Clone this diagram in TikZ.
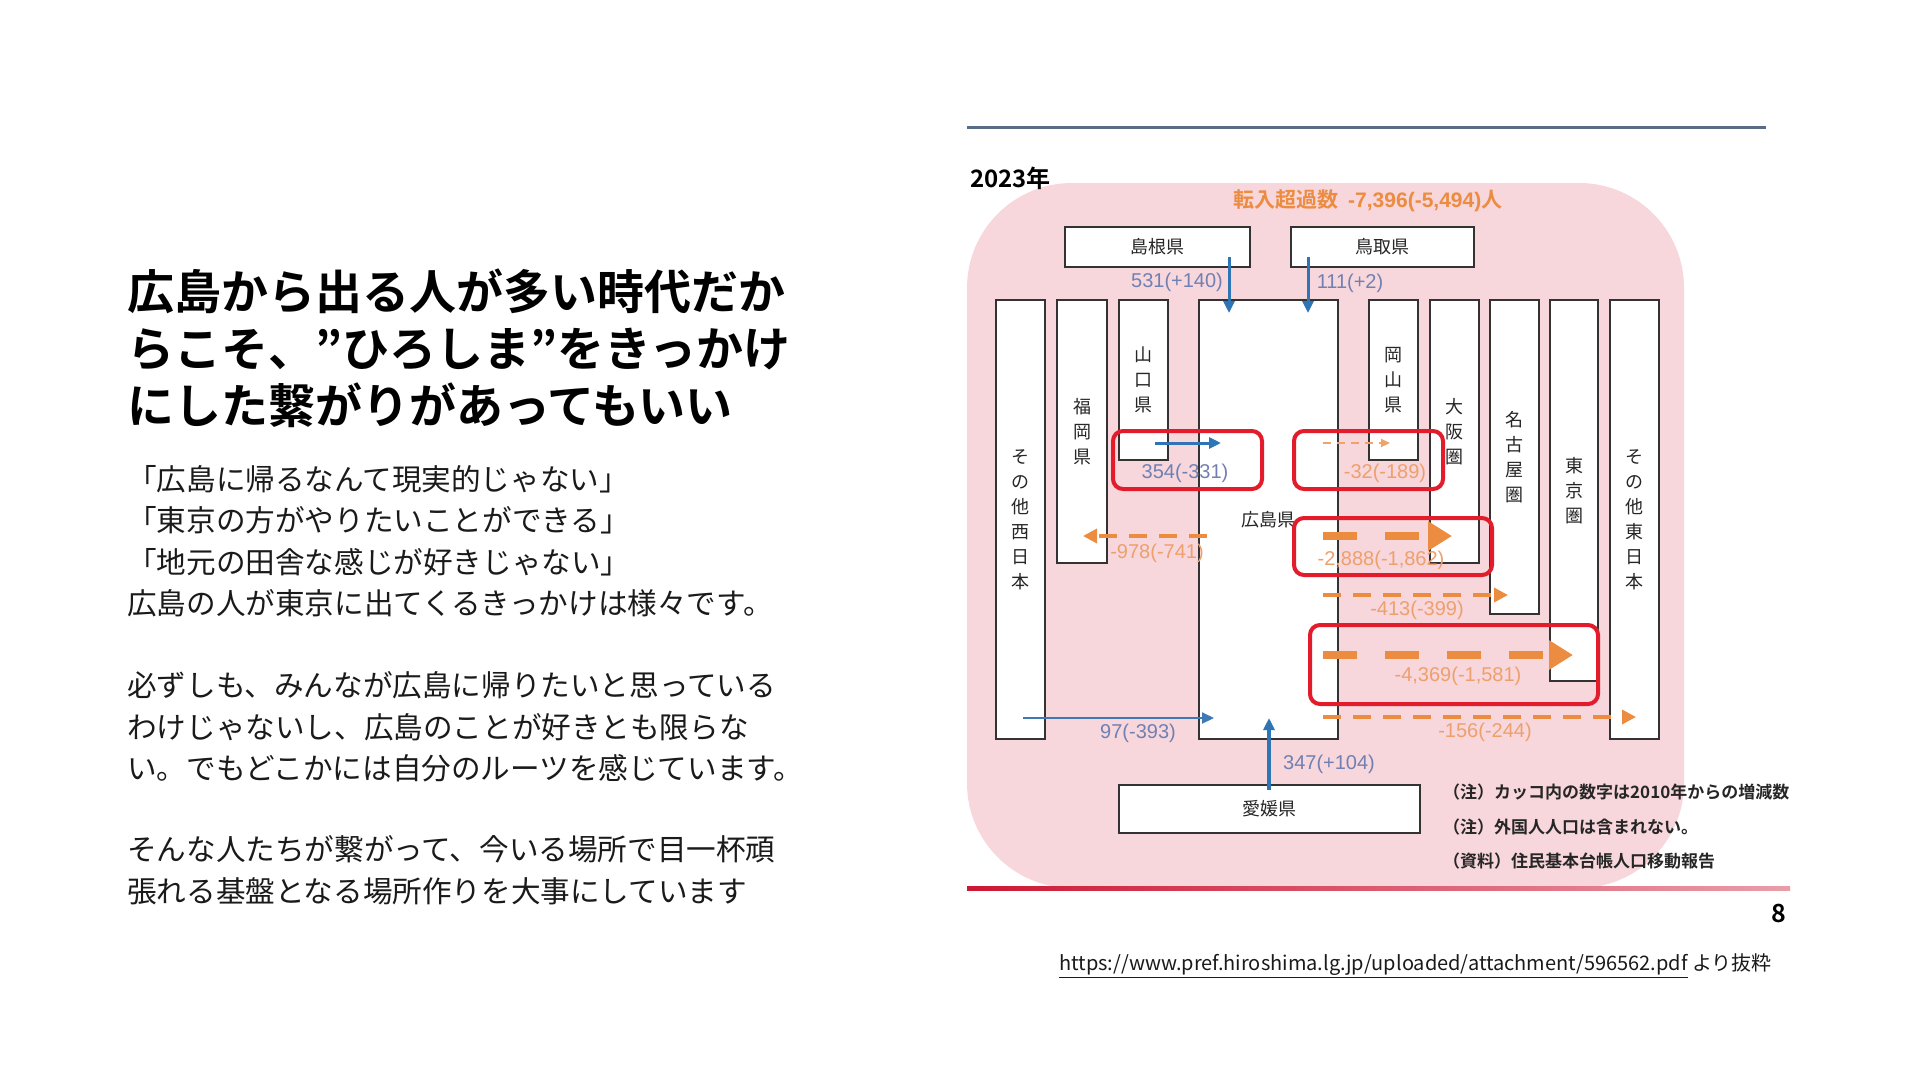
\documentclass[tikz,border=0pt]{standalone}
\usepackage{fontspec}
\setmainfont{Noto Sans CJK JP}[BoldFont={Noto Sans CJK JP Bold}]
\newfontfamily\numfont{Liberation Sans}
\usetikzlibrary{arrows.meta}
\definecolor{slidepink}{RGB}{247,214,220}
\definecolor{arrblue}{RGB}{46,117,182}
\definecolor{lblblue}{RGB}{112,128,178}
\definecolor{arrorange}{RGB}{236,140,64}
\definecolor{lblorange}{RGB}{238,160,108}
\definecolor{hlred}{RGB}{226,28,42}
\definecolor{ruleblue}{RGB}{88,108,136}
\definecolor{rulered}{RGB}{204,24,52}
\definecolor{inkgray}{RGB}{26,26,26}
\tikzstyle{headline}=[anchor=west, inner sep=0pt, align=left, text=black, font=\bfseries\fontsize{47}{57}\selectfont]
\tikzstyle{bodytext}=[anchor=west, inner sep=0pt, align=left, text=inkgray, font=\fontsize{29.6}{41.5}\selectfont]
\tikzstyle{prefbox}=[rectangle, draw=black!80, line width=2pt, fill=white, inner sep=0pt, text=black!85, font=\fontsize{18}{25}\selectfont]
\tikzstyle{colbox}=[prefbox, anchor=north, minimum width=49pt, align=center]
\tikzstyle{hlbox}=[rectangle, draw=hlred, line width=4pt, rounded corners=10pt, inner sep=0pt]
\tikzstyle{numblue}=[inner sep=0pt, text=lblblue, font=\numfont\fontsize{20}{20}\selectfont]
\tikzstyle{numorange}=[inner sep=0pt, text=lblorange, font=\numfont\fontsize{20}{20}\selectfont]
\tikzstyle{inarr}=[arrblue, line width=3pt, -{Triangle[length=12pt, width=11pt]}]
\tikzstyle{outarr}=[arrorange, line width=4pt, dash pattern=on 18pt off 12pt, -{Triangle[length=14pt, width=14pt]}]
\tikzstyle{bigarr}=[arrorange, line width=8pt, dash pattern=on 34pt off 28pt, -{Triangle[length=24pt, width=28pt]}]
\tikzstyle{thinarr}=[arrorange!80, line width=2pt, dash pattern=on 8pt off 6pt, -{Triangle[length=9pt, width=8pt]}]
\tikzstyle{note}=[anchor=west, inner sep=0pt, text=black!85, font=\bfseries\fontsize{17}{17}\selectfont]

\begin{document}
\begin{tikzpicture}[x=1pt, y=-1pt]
\useasboundingbox (0,0) rectangle (1920,1080);
\fill [white] (0,0) rectangle (1920,1080);

\node [headline] (head) at (127,348) {広島から出る人が多い時代だか\\らこそ、”ひろしま”をきっかけ\\にした繋がりがあってもいい};
\node [bodytext] (voices) at (127,541) {「広島に帰るなんて現実的じゃない」\\「東京の方がやりたいことができる」\\「地元の田舎な感じが好きじゃない」\\広島の人が東京に出てくるきっかけは様々です。};
\node [bodytext] (roots) at (127,727) {必ずしも、みんなが広島に帰りたいと思っている\\わけじゃないし、広島のことが好きとも限らな\\い。でもどこかには自分のルーツを感じています。};
\node [bodytext] (base) at (127,870) {そんな人たちが繋がって、今いる場所で目一杯頑\\張れる基盤となる場所作りを大事にしています};

\fill [slidepink, rounded corners=105pt] (967,183) rectangle (1684,888);
\draw [ruleblue, line width=3pt] (967,127) -- (1766,127);
\shade [left color=rulered, right color=slidepink!70!rulered] (967,886) rectangle (1790,890);

\node [anchor=west, inner sep=0pt, font=\bfseries\fontsize{24}{24}\selectfont] (year) at (970,178) {2023年};
\node [inner sep=0pt, text=arrorange, font=\bfseries\fontsize{21}{21}\selectfont] (total) at (1368,201) {転入超過数\ \ {\numfont -7,396(-5,494)}人};

\node [prefbox, minimum width=185pt, minimum height=40pt] (shimane) at (1157.5,247) {島根県};
\node [prefbox, minimum width=183pt, minimum height=40pt] (tottori) at (1382.5,247) {鳥取県};
\node [prefbox, minimum width=301pt, minimum height=48pt] (ehime) at (1269.5,809) {愛媛県};

\node [colbox, minimum height=439pt] (westother) at (1020.5,299) {そ\\の\\他\\西\\日\\本};
\node [colbox, minimum width=50pt, minimum height=263pt] (fukuoka) at (1082,299) {福\\岡\\県};
\node [colbox, minimum height=160pt] (yamaguchi) at (1143.5,299) {山\\口\\県};
\node [colbox, minimum width=139pt, minimum height=439pt] (hiroshima) at (1268,299) {広島県};
\node [colbox, minimum height=160pt] (okayama) at (1393.5,299) {岡\\山\\県};
\node [colbox, minimum height=263pt] (osaka) at (1454.5,299) {大\\阪\\圏};
\node [colbox, minimum height=314pt] (nagoya) at (1514.5,299) {名\\古\\屋\\圏};
\node [colbox, minimum width=48pt, minimum height=381pt] (tokyo) at (1574,299) {東\\京\\圏};
\node [colbox, minimum height=439pt] (eastother) at (1634.5,299) {そ\\の\\他\\東\\日\\本};

\coordinate (shimane-out) at (1229,257);
\coordinate (shimane-in) at (1229,313);
\coordinate (tottori-out) at (1308,257);
\coordinate (tottori-in) at (1308,313);
\coordinate (yamaguchi-out) at (1155,443);
\coordinate (yamaguchi-in) at (1221,443);
\coordinate (westother-out) at (1023,718);
\coordinate (westother-in) at (1214,718);
\coordinate (ehime-out) at (1269,790);
\coordinate (ehime-in) at (1269,718);
\coordinate (okayama-out) at (1323,443);
\coordinate (okayama-in) at (1390,443);
\coordinate (fukuoka-out) at (1207,536);
\coordinate (fukuoka-in) at (1083,536);
\coordinate (osaka-out) at (1323,536);
\coordinate (osaka-in) at (1452,536);
\coordinate (nagoya-out) at (1323,595);
\coordinate (nagoya-in) at (1508,595);
\coordinate (tokyo-out) at (1323,655);
\coordinate (tokyo-in) at (1573,655);
\coordinate (eastother-out) at (1323,717);
\coordinate (eastother-in) at (1636,717);

\draw [inarr] (shimane-out) -- (shimane-in);
\draw [inarr] (tottori-out) -- (tottori-in);
\draw [inarr] (yamaguchi-out) -- (yamaguchi-in);
\draw [inarr, arrblue!75!lblblue, line width=2pt] (westother-out) -- (westother-in);
\draw [inarr, line width=4pt] (ehime-out) -- (ehime-in);

\draw [thinarr] (okayama-out) -- (okayama-in);
\draw [outarr] (fukuoka-out) -- (fukuoka-in);
\draw [bigarr] (osaka-out) -- (osaka-in);
\draw [outarr] (nagoya-out) -- (nagoya-in);
\draw [bigarr] (tokyo-out) -- (tokyo-in);
\draw [outarr] (eastother-out) -- (eastother-in);

\node [numblue] (n-shimane) at (1177,282) {531(+140)};
\node [numblue] (n-tottori) at (1350,283) {111(+2)};
\node [numblue] (n-yamaguchi) at (1185,473) {354(-331)};
\node [numblue] (n-westother) at (1138,733) {97(-393)};
\node [numblue] (n-ehime) at (1329,764) {347(+104)};
\node [numorange] (n-okayama) at (1385,473) {-32(-189)};
\node [numorange] (n-fukuoka) at (1157,553) {-978(-741)};
\node [numorange] (n-osaka) at (1381,560) {-2,888(-1,862)};
\node [numorange] (n-nagoya) at (1417,610) {-413(-399)};
\node [numorange] (n-tokyo) at (1458,676) {-4,369(-1,581)};
\node [numorange] (n-eastother) at (1485,732) {-156(-244)};

\node [hlbox, minimum width=149pt, minimum height=58pt] (hl-yamaguchi) at (1187.5,460) {};
\node [hlbox, minimum width=149pt, minimum height=58pt] (hl-okayama) at (1368.5,460) {};
\node [hlbox, minimum width=198pt, minimum height=57pt] (hl-osaka) at (1393,546.5) {};
\node [hlbox, minimum width=288pt, minimum height=79pt] (hl-tokyo) at (1454,664.5) {};

\node [note] (note1) at (1443,792) {（注）カッコ内の数字は2010年からの増減数};
\node [note] (note2) at (1443,827) {（注）外国人人口は含まれない。};
\node [note] (note3) at (1443,861) {（資料）住民基本台帳人口移動報告};

\node [inner sep=0pt, font=\bfseries\fontsize{25}{25}\selectfont] (page) at (1779,913) {8};
\node [anchor=west, inner sep=0pt, text=inkgray, font=\fontsize{20}{20}\selectfont] (source) at (1059,966) {\underline{https://www.pref.hiroshima.lg.jp/uploaded/attachment/596562.pdf} より抜粋};

\end{tikzpicture}
\end{document}
